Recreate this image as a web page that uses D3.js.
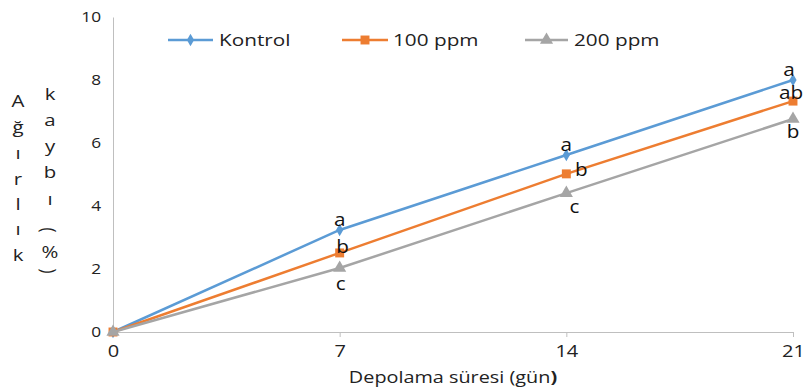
<!DOCTYPE html>
<html><head><meta charset="utf-8">
<script src="https://cdn.jsdelivr.net/npm/d3@7"></script>
<style>body{margin:0;background:#fff}svg{display:block}text{font-family:"Open Sans","DejaVu Sans",sans-serif}</style>
</head><body><svg id="c" width="805" height="387"></svg>
<script>
const days = [0, 7, 14, 21];
const kontrol = [0, 3.24, 5.62, 8.0];
const ppm100 = [0, 2.51, 5.02, 7.33];
const ppm200 = [0, 2.03, 4.41, 6.76];
const seriesNames = ["Kontrol", "100 ppm", "200 ppm"];
const yTicks = [0, 2, 4, 6, 8, 10];
const letters = [["", "a", "a", "a"], ["", "b", "b", "ab"], ["", "c", "c", "b"]];

const colors = ["#5B9BD5", "#ED7D31", "#A5A5A5"];
const SX = 1.25;
const svg = d3.select("#c");
const x = d3.scaleLinear().domain([0, 21]).range([113, 793]);
const y = d3.scaleLinear().domain([0, 10]).range([332, 17]);

function stext(px, py, t, size, anchor, s) {
  return svg.append("text").attr("transform", `translate(${px},${py}) scale(${s || SX},1)`)
    .attr("text-anchor", anchor || "start").attr("font-size", size).attr("fill", "#222").text(t);
}

// axes
const ya = svg.append("g").attr("transform", "translate(113,0)")
  .call(d3.axisLeft(y).tickValues(yTicks).tickSize(0).tickPadding(12));
ya.select(".domain").attr("stroke", "#BFBFBF");
ya.selectAll("text").attr("font-size", 15).attr("fill", "#222")
  .attr("x", -12 / 1.15).attr("transform", "scale(1.15,1)");
const xa = svg.append("g").attr("transform", "translate(0,332)")
  .call(d3.axisBottom(x).tickValues(days).tickSize(5).tickSizeOuter(0).tickPadding(9));
xa.select(".domain").attr("stroke", "#BFBFBF");
xa.selectAll("line").attr("stroke", "#BFBFBF");
xa.selectAll("text").attr("font-size", 16).attr("fill", "#222").attr("transform", `scale(${SX},1)`);

const data = [kontrol, ppm100, ppm200];
const line = d3.line().x((d, i) => x(days[i])).y(d => y(d));
const symbols = [d3.symbolDiamond, d3.symbolSquare, d3.symbolTriangle];
const sizes = [45, 80, 75];

data.forEach((s, k) => {
  svg.append("path").datum(s).attr("d", line).attr("fill", "none")
    .attr("stroke", colors[k]).attr("stroke-width", 2.5);
  svg.selectAll(null).data(s).enter().append("path")
    .attr("d", d3.symbol().type(symbols[k]).size(sizes[k]))
    .attr("transform", (d, i) => `translate(${x(days[i])},${y(d)})`)
    .attr("fill", colors[k]);
});

// significance letters: offsets [dx, dy] relative to point, per series/day
const offsets = [
  [null, [0, -4], [0, -4], [-4, -4]],
  [null, [3, 0], [15, 2], [-2, -2]],
  [null, [1, 22], [8, 20], [0, 19]]
];
letters.forEach((row, k) => {
  row.forEach((t, i) => {
    if (!t) return;
    const o = offsets[k][i];
    stext(x(days[i]) + o[0], y(data[k][i]) + o[1], t, 18, "middle", 1.15).attr("fill", "#111");
  });
});

// legend
const lg = [{x1: 168, x2: 213, tx: 219}, {x1: 342, x2: 388, tx: 393}, {x1: 525, x2: 568, tx: 574}];
lg.forEach((l, k) => {
  svg.append("line").attr("x1", l.x1).attr("x2", l.x2).attr("y1", 40).attr("y2", 40)
    .attr("stroke", colors[k]).attr("stroke-width", 2.5);
  svg.append("path").attr("d", d3.symbol().type(symbols[k]).size(sizes[k]))
    .attr("transform", `translate(${(l.x1 + l.x2) / 2},40)`).attr("fill", colors[k]);
  stext(l.tx, 46, seriesNames[k], 17, "start", 1.22);
});

// axis titles
const xt = stext(453, 383, "", 16, "middle", 1.24);
xt.append("tspan").text("Depolama süresi (gün");
xt.append("tspan").attr("font-weight", "bold").text(")");

const col1 = ["A", "ğ", "ı", "r", "l", "ı", "k"];
const col1y = [107, 133, 159, 185, 210, 235, 261];
col1.forEach((c, i) => stext(18, col1y[i], c, 17, "middle", 1.2));
const col2 = ["k", "a", "y", "b", "ı"];
const col2y = [100, 126, 152, 178, 205];
col2.forEach((c, i) => stext(50, col2y[i], c, 17, "middle", 1.2));
svg.append("text").attr("transform", "translate(50,230) rotate(90) scale(1,1.2)").attr("text-anchor", "middle")
  .attr("dominant-baseline", "central").attr("font-size", 17).attr("fill", "#222").text("(");
stext(50, 258, "%", 17, "middle", 1.2);
svg.append("text").attr("transform", "translate(50,271) rotate(90) scale(1,1.2)").attr("text-anchor", "middle")
  .attr("dominant-baseline", "central").attr("font-size", 17).attr("fill", "#222").text(")");
</script></body></html>
